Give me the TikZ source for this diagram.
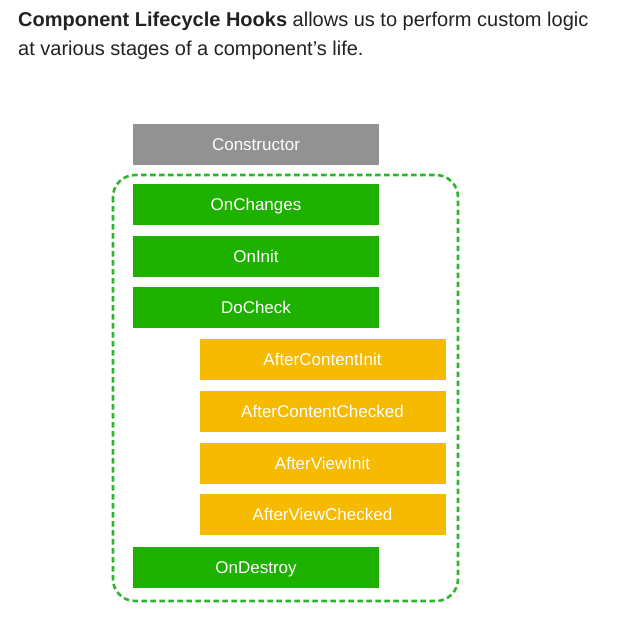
\documentclass[tikz,border=0pt]{standalone}
\usepackage{fontspec}
\setmainfont{Liberation Sans}
\definecolor{cgray}{HTML}{929292}
\definecolor{cgreen}{HTML}{1FB100}
\definecolor{cyellow}{HTML}{F6BA00}
\definecolor{cdash}{HTML}{2DB52D}
\definecolor{ctext}{HTML}{222222}
\begin{document}
\begin{tikzpicture}[x=1pt,y=-1pt,
  hook/.style={minimum width=246pt,minimum height=41pt,inner sep=0pt,text height=12.3pt,text depth=0pt,text=white,font=\fontsize{17}{20}\selectfont},
  grayhook/.style={hook,fill=cgray},
  greenhook/.style={hook,fill=cgreen},
  yellowhook/.style={hook,fill=cyellow},
  header/.style={anchor=base west,inner sep=0pt,text=ctext,font=\fontsize{20}{24}\selectfont}]
\useasboundingbox (0,0) rectangle (617,629);
\node[header] (h1) at (18,27) {\textbf{Component Lifecycle Hooks} allows us to perform custom logic};
\node[header] (h2) at (18,55) {at various stages of a component’s life.};
\draw[cdash,line width=2.6pt,dash pattern=on 5.5pt off 3.5pt,rounded corners=22pt] (113,175) rectangle (458,601);
\node[grayhook]   (ctor) at (256,144.5) {Constructor};
\node[greenhook]  (chg)  at (256,204.5) {OnChanges};
\node[greenhook]  (init) at (256,256.5) {OnInit};
\node[greenhook]  (chk)  at (256,307.5) {DoCheck};
\node[yellowhook] (aci)  at (322.5,359) {AfterContentInit};
\node[yellowhook] (acc)  at (322.5,411) {AfterContentChecked};
\node[yellowhook] (avi)  at (322.5,463) {AfterViewInit};
\node[yellowhook] (avc)  at (322.5,514) {AfterViewChecked};
\node[greenhook]  (dst)  at (256,567) {OnDestroy};
\end{tikzpicture}
\end{document}
